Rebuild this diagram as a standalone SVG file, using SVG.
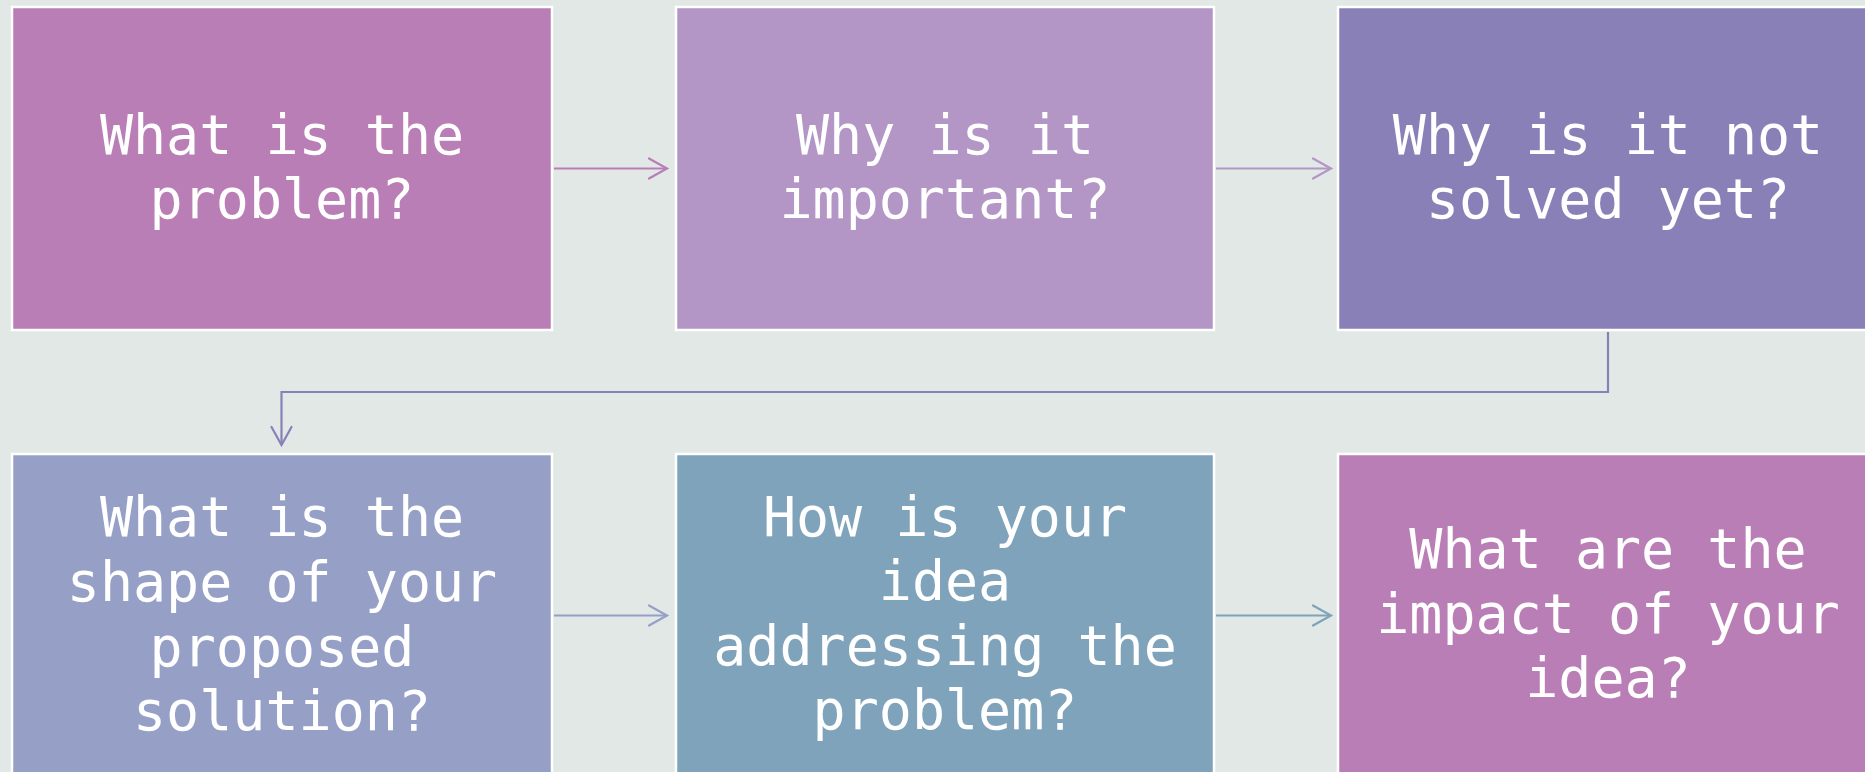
<svg xmlns="http://www.w3.org/2000/svg" width="1865" height="772" viewBox="0 0 1865 772">
<style>
.box{stroke:#FFFFFF;stroke-width:2.5}
.lbl{font-family:"DejaVu Sans Mono","Liberation Mono",monospace;font-size:55px;fill:#FFFFFF;text-anchor:middle}
.con{fill:none;stroke-width:2.2}
.head{fill:none;stroke-width:2.2;stroke-linecap:round;stroke-linejoin:miter}
</style>
<rect x="0" y="0" width="1865" height="772" fill="#E1E8E6"/>
<g id="node1">
<rect class="box" x="12" y="7" width="540" height="323" fill="#BA7EB6"/>
<text class="lbl" x="282" y="154">What is the</text>
<text class="lbl" x="282" y="218">problem?</text>
</g>
<g id="node2">
<rect class="box" x="676" y="7" width="538" height="323" fill="#B396C6"/>
<text class="lbl" x="945" y="154">Why is it</text>
<text class="lbl" x="945" y="218">important?</text>
</g>
<g id="node3">
<rect class="box" x="1338" y="7" width="540" height="323" fill="#8A80B8"/>
<text class="lbl" x="1608" y="154">Why is it not</text>
<text class="lbl" x="1608" y="218">solved yet?</text>
</g>
<g id="node4">
<rect class="box" x="12" y="454" width="540" height="324" fill="#96A0C6"/>
<text class="lbl" x="282" y="536">What is the</text>
<text class="lbl" x="282" y="601">shape of your</text>
<text class="lbl" x="282" y="666">proposed</text>
<text class="lbl" x="282" y="730">solution?</text>
</g>
<g id="node5">
<rect class="box" x="676" y="454" width="538" height="324" fill="#7FA3BB"/>
<text class="lbl" x="945" y="536">How is your</text>
<text class="lbl" x="945" y="600">idea</text>
<text class="lbl" x="945" y="665">addressing the</text>
<text class="lbl" x="945" y="729">problem?</text>
</g>
<g id="node6">
<rect class="box" x="1338" y="454" width="540" height="324" fill="#BA7EB6"/>
<text class="lbl" x="1608" y="568">What are the</text>
<text class="lbl" x="1608" y="633">impact of your</text>
<text class="lbl" x="1608" y="697">idea?</text>
</g>
<g id="connectors">
<g stroke="#BA7EB6">
<path class="con" d="M554 168.5 H667"/>
<path class="head" d="M649 158.5 L667 168.5 L649 178.5"/>
</g>
<g stroke="#B396C6">
<path class="con" d="M1216 168.5 H1331"/>
<path class="head" d="M1313 158.5 L1331 168.5 L1313 178.5"/>
</g>
<g stroke="#8A80B8">
<path class="con" d="M1608 332 V392 H281.5 V445"/>
<path class="head" d="M271.5 427 L281.5 445 L291.5 427"/>
</g>
<g stroke="#96A0C6">
<path class="con" d="M554 615.5 H667"/>
<path class="head" d="M649 605.5 L667 615.5 L649 625.5"/>
</g>
<g stroke="#7FA3BB">
<path class="con" d="M1216 615.5 H1331"/>
<path class="head" d="M1313 605.5 L1331 615.5 L1313 625.5"/>
</g>
</g>
</svg>
